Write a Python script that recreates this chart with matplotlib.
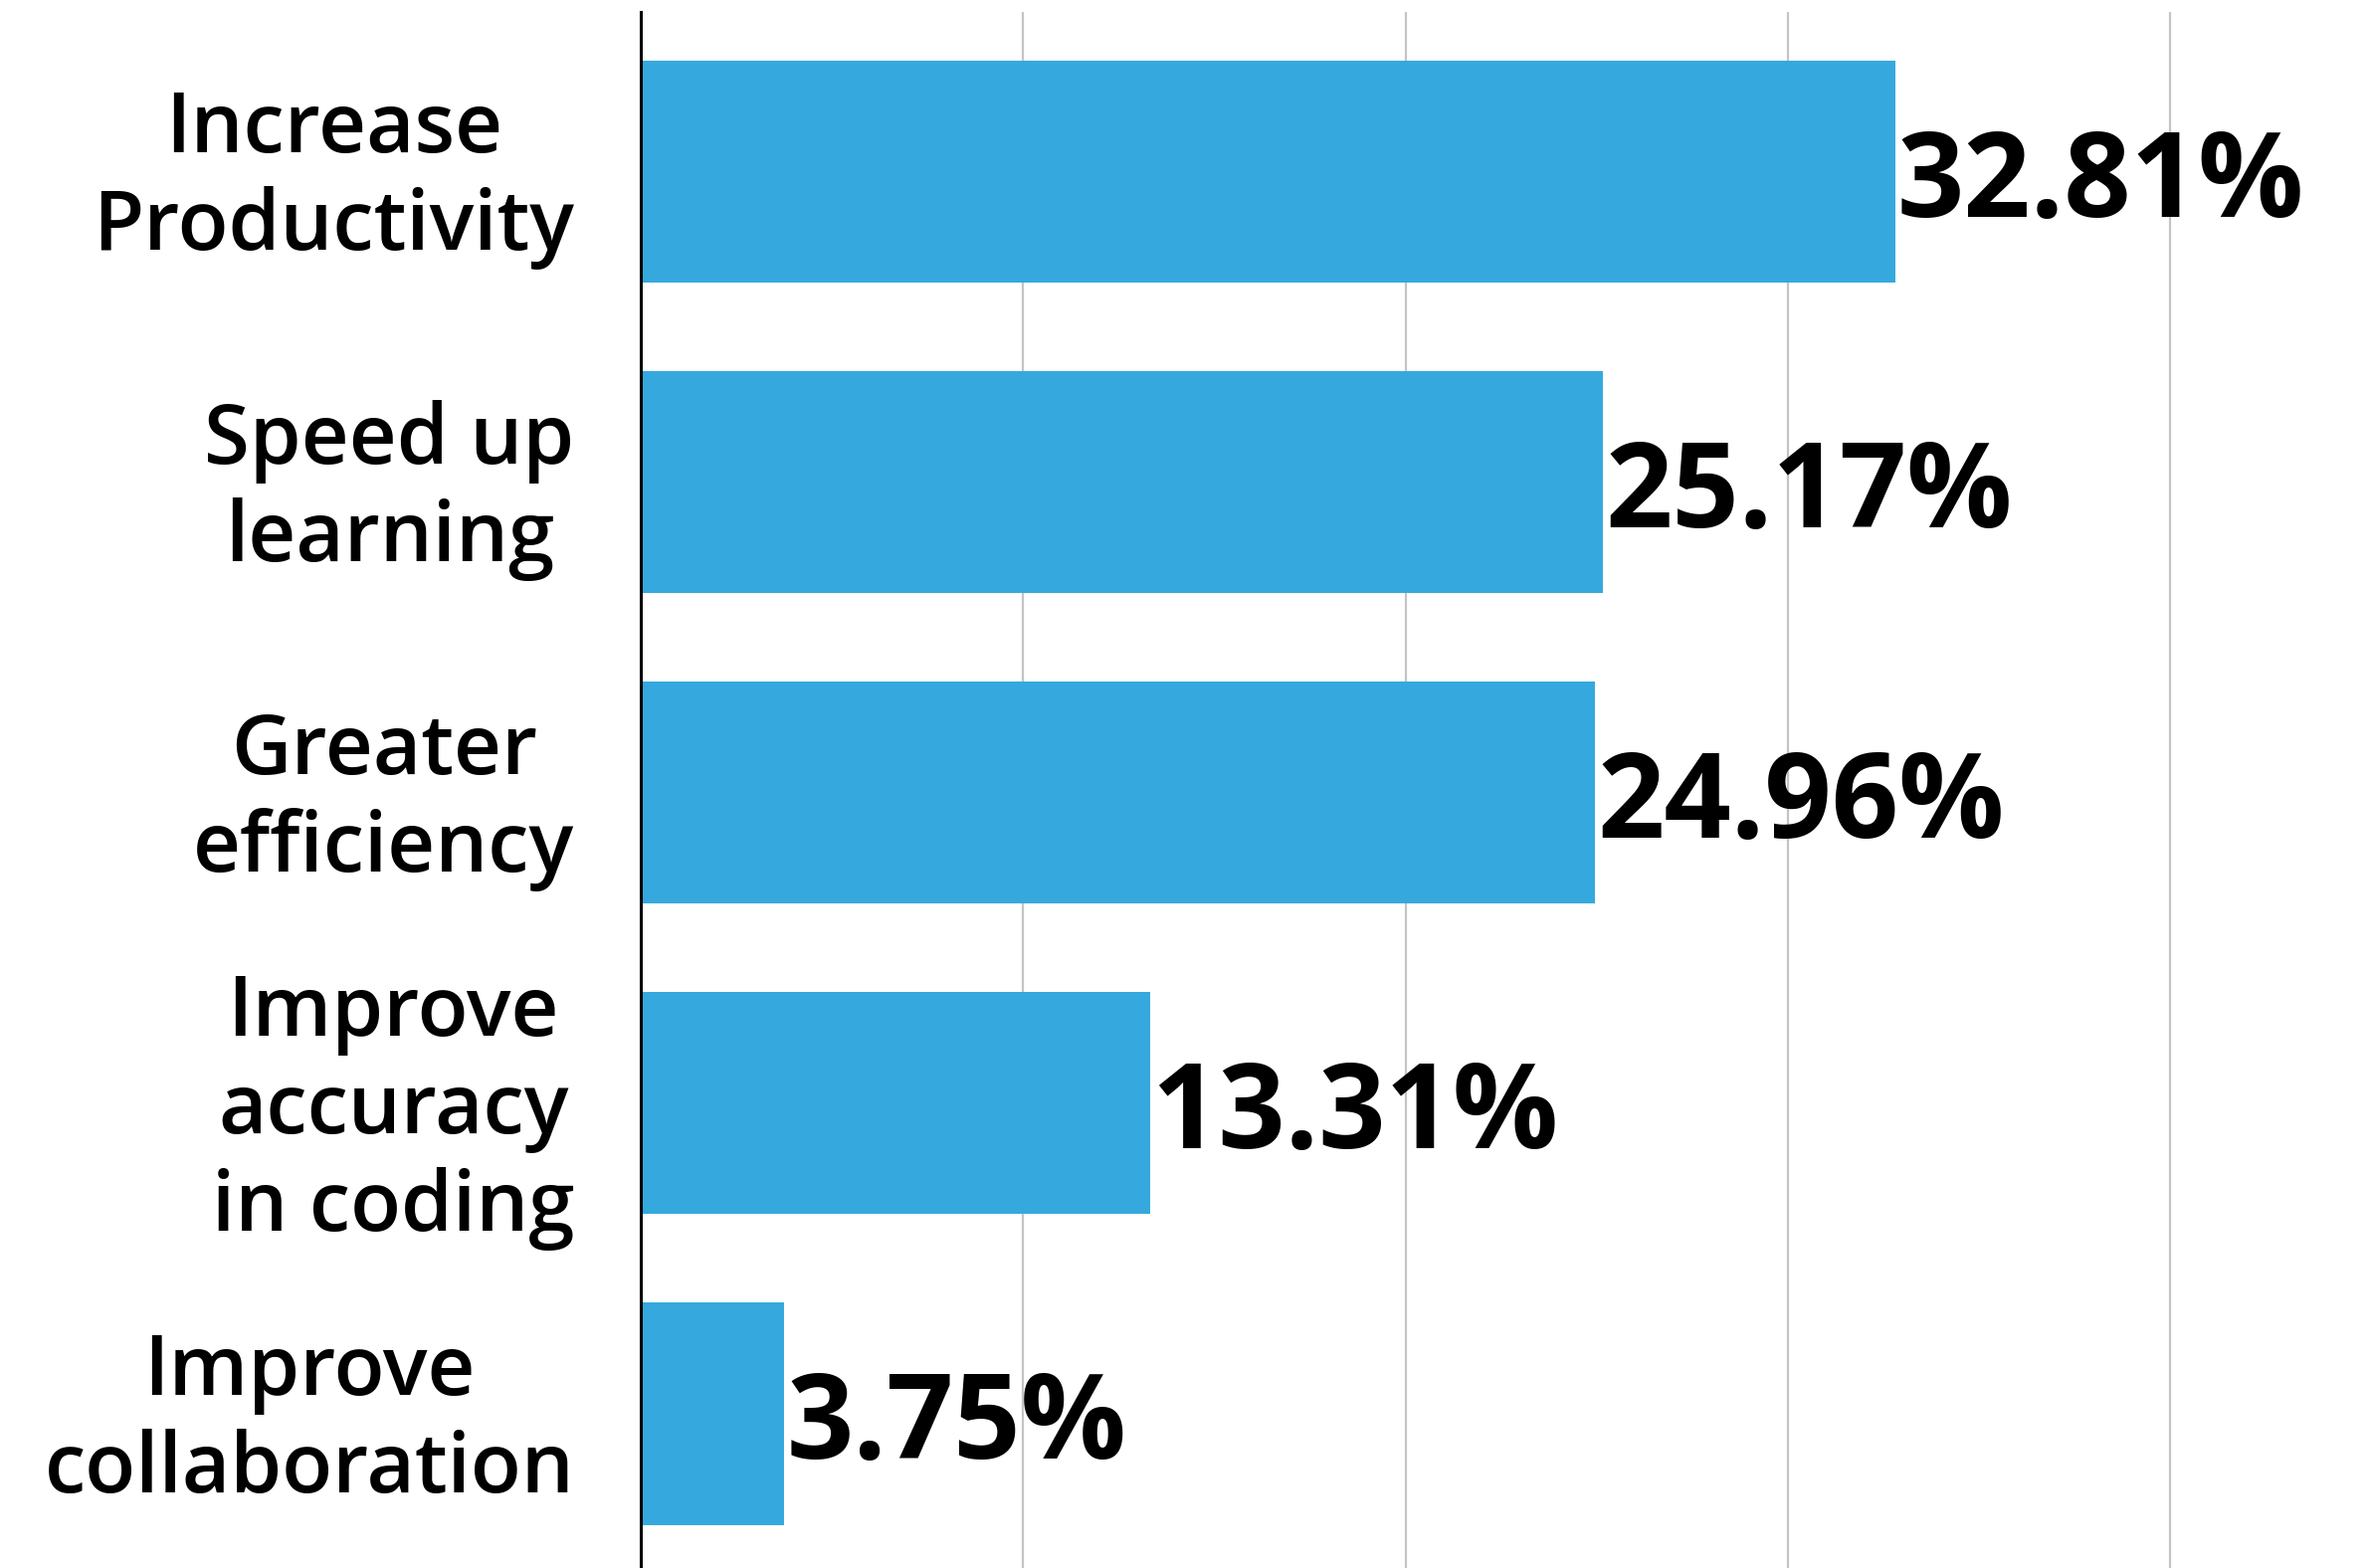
import matplotlib
matplotlib.use('Agg')
import matplotlib.pyplot as plt
from matplotlib.transforms import ScaledTranslation

# survey answers, top to bottom
categories = ['Increase\nProductivity', 'Speed up\nlearning', 'Greater\nefficiency',
              'Improve\naccuracy\nin coding', 'Improve\ncollaboration']
shares = [32.81, 25.17, 24.96, 13.31, 3.75]
value_labels = ['32.81%', '25.17%', '24.96%', '13.31%', '3.75%']
grid_ticks = [10, 20, 30, 40]

bar_color = '#35a9dd'
font = 'Open Sans'

fig = plt.figure(figsize=(23.83, 15.76), dpi=100)
ax = fig.add_axes([0.2703, 0.0, 0.7257, 0.9924])

pos = list(range(len(categories)))
ax.barh(pos, shares, height=0.716, color=bar_color, zorder=2)

# numbers sit on a baseline a little below the bar centre
for y, v, lab in zip(pos, shares, value_labels):
    ax.text(v + 0.05, y + 0.145, lab, va='baseline', ha='left', fontsize=85,
            fontweight='bold', family=font, color='black', zorder=3)

ax.set_xlim(0, 45)
ax.set_ylim(4.497, -0.514)

ax.set_xticks(grid_ticks)
ax.xaxis.grid(True, color='#c4c4c4', linewidth=1.6, zorder=0)
ax.tick_params(axis='x', length=0, labelbottom=False)

ax.set_yticks(pos)
ax.set_yticklabels(categories, fontsize=60, fontweight='semibold', family=font,
                   multialignment='center', linespacing=1.22)
ax.tick_params(axis='y', length=0, pad=48)
# nudge the category text up so the letters (not the descenders) centre on the bar
shift = ScaledTranslation(0, 0.09, fig.dpi_scale_trans)
for t in ax.get_yticklabels():
    t.set_transform(t.get_transform() + shift)

for side in ['top', 'right', 'bottom']:
    ax.spines[side].set_visible(False)
ax.spines['left'].set_linewidth(2.2)
ax.spines['left'].set_color('black')
ax.spines['left'].set_zorder(4)

fig.savefig('out.png', dpi=100)
